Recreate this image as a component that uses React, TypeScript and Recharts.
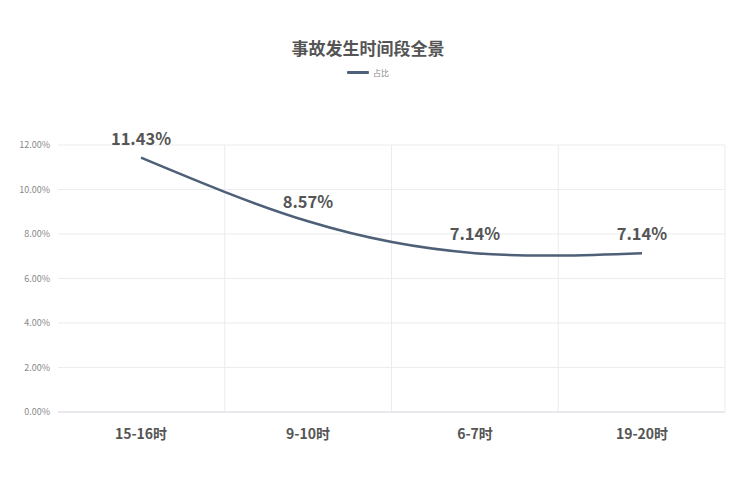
import React from "react";
import {
  LineChart, Line, XAxis, YAxis, CartesianGrid, LabelList,
} from "recharts";

const CATEGORIES = ["15-16时", "9-10时", "6-7时", "19-20时"];
const SHARE = [11.43, 8.57, 7.14, 7.14];
const Y_TICKS = [0, 2, 4, 6, 8, 10, 12];

const FONT = "'Noto Sans CJK SC', 'Noto Sans', sans-serif";
const LINE_COLOR = "#4e6078";

const data = CATEGORIES.map((c, i) => ({ name: c, value: SHARE[i] }));

export default function App() {
  return (
    <div style={{ position: "absolute", left: 0, top: 0, width: 736, height: 487, background: "#fff", fontFamily: FONT }}>
      <div style={{ position: "absolute", top: 35, width: 736, textAlign: "center", fontSize: 17, fontWeight: 700, color: "#555" }}>
        事故发生时间段全景
      </div>
      <div style={{ position: "absolute", top: 67, width: 736, display: "flex", justifyContent: "center", alignItems: "center", gap: 4 }}>
        <span style={{ display: "inline-block", width: 22, height: 3, background: LINE_COLOR, borderRadius: 1 }} />
        <span style={{ fontSize: 8, color: "#888" }}>占比</span>
      </div>
      <LineChart
        width={736}
        height={487}
        data={data}
        margin={{ top: 145, right: 11, left: 0, bottom: 35 }}
      >
        <CartesianGrid
          stroke="#ebebf0"
          verticalCoordinatesGenerator={({ offset }: any) =>
            CATEGORIES.map((_, i) => offset.left + ((i + 1) * offset.width) / CATEGORIES.length)
          }
        />
        <XAxis
          dataKey="name"
          height={40}
          padding={{ left: 83, right: 83 }}
          tickLine={false}
          axisLine={{ stroke: "#dcdce2" }}
          tick={{ fontSize: 14, fontWeight: 700, fill: "#555", fontFamily: FONT }}
          dy={9}
        />
        <YAxis
          width={58}
          domain={[0, 12]}
          ticks={Y_TICKS}
          tickFormatter={(v: number) => v.toFixed(2) + "%"}
          tickLine={false}
          axisLine={false}
          tick={{ fontSize: 9, fill: "#888", fontFamily: FONT }}
        />
        <Line
          type="natural"
          dataKey="value"
          stroke={LINE_COLOR}
          strokeWidth={2.5}
          dot={false}
          activeDot={false}
          isAnimationActive={false}
        >
          <LabelList
            dataKey="value"
            position="top"
            offset={13}
            formatter={(v: any) => Number(v).toFixed(2) + "%"}
            style={{ fontSize: 16.5, fontWeight: 700, fill: "#555", fontFamily: FONT }}
          />
        </Line>
      </LineChart>
    </div>
  );
}
